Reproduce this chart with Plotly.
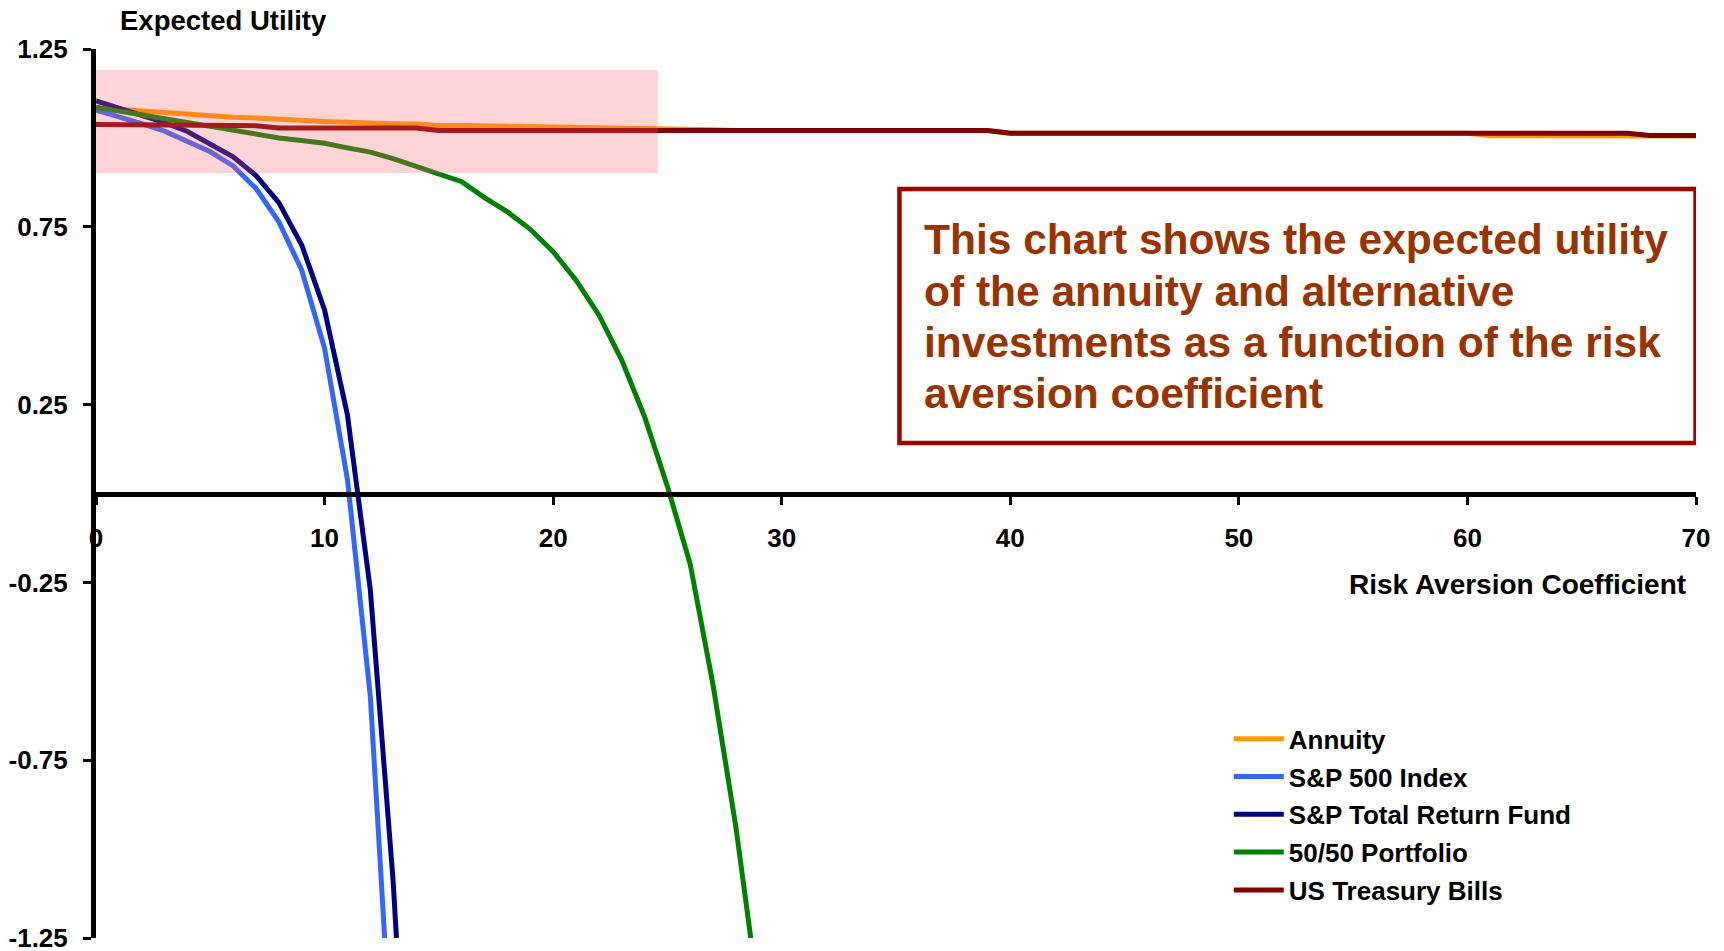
import plotly.graph_objects as go

# ---------------- data ----------------
risk_aversion = list(range(0, 71))

annuity = ([1.085, 1.080, 1.075, 1.070, 1.065, 1.061, 1.058, 1.056, 1.052, 1.050,
            1.046, 1.044, 1.041, 1.040, 1.039, 1.035, 1.035, 1.034, 1.033, 1.033,
            1.033, 1.032, 1.031, 1.027, 1.026, 1.025, 1.024, 1.023, 1.021, 1.021,
            1.021, 1.021, 1.021, 1.021, 1.021, 1.021, 1.021, 1.021, 1.021, 1.021,
            1.013, 1.013, 1.013, 1.013, 1.013, 1.013, 1.013, 1.013, 1.013, 1.013,
            1.013, 1.013, 1.013, 1.013, 1.013, 1.013, 1.013, 1.013, 1.013, 1.013,
            1.013, 1.006, 1.006, 1.006, 1.006, 1.006, 1.006, 1.006, 1.005, 1.005,
            1.005])

sp500_x = list(range(0, 14))
sp500 = [1.078, 1.060, 1.040, 1.019, 0.991, 0.961, 0.921, 0.858, 0.764, 0.628,
         0.408, 0.040, -0.570, -1.650]

sp_total_x = list(range(0, 15))
sp_total = [1.104, 1.084, 1.064, 1.043, 1.018, 0.984, 0.947, 0.894, 0.818, 0.699,
            0.516, 0.221, -0.270, -1.090, -2.200]

portfolio_x = list(range(0, 30))
portfolio = [1.086, 1.075, 1.064, 1.053, 1.042, 1.030, 1.020, 1.010, 1.000, 0.993,
             0.985, 0.972, 0.960, 0.942, 0.920, 0.899, 0.877, 0.832, 0.792, 0.743,
             0.680, 0.600, 0.502, 0.375, 0.216, 0.020, -0.200, -0.540, -0.940, -1.420]

tbills = ([1.038, 1.038, 1.037, 1.037, 1.036, 1.036, 1.035, 1.034,
           1.028, 1.028, 1.028, 1.028, 1.028, 1.028, 1.028,
           1.021, 1.021, 1.021, 1.021, 1.021, 1.021, 1.021, 1.021, 1.021, 1.021,
           1.021, 1.021, 1.021, 1.021, 1.021, 1.021, 1.021, 1.021, 1.021, 1.021,
           1.021, 1.021, 1.021, 1.021, 1.021,
           1.013, 1.013, 1.013, 1.013, 1.013, 1.013, 1.013, 1.013, 1.013, 1.013,
           1.013, 1.013, 1.013, 1.013, 1.013, 1.013, 1.013, 1.013, 1.013, 1.013,
           1.013, 1.013, 1.013, 1.013, 1.013, 1.013, 1.013, 1.013,
           1.007, 1.007, 1.007])

x_ticks = [0, 10, 20, 30, 40, 50, 60, 70]
y_ticks = [-1.25, -0.75, -0.25, 0.25, 0.75, 1.25]
y_tick_text = ["-1.25", "-0.75", "-0.25", "0.25", "0.75", "1.25"]

series = [
    ("Annuity", risk_aversion, annuity, "#FF9900"),
    ("S&P 500 Index", sp500_x, sp500, "#3366FF"),
    ("S&P Total Return Fund", sp_total_x, sp_total, "#000080"),
    ("50/50 Portfolio", portfolio_x, portfolio, "#008000"),
    ("US Treasury Bills", risk_aversion, tbills, "#800000"),
]

note_lines = ["This chart shows the expected utility",
              "of the annuity and alternative",
              "investments as a function of the risk",
              "aversion coefficient"]
note_line_y = [0.7855, 0.7274, 0.6693, 0.6124]   # paper positions of the note lines

FONT = "Liberation Sans, Arial, Helvetica, sans-serif"

fig = go.Figure()
for i, (name, xs, ys, col) in enumerate(series):
    fig.add_trace(go.Scatter(
        x=xs, y=ys, mode="lines", name=name, legendgroup=f"g{i}",
        line=dict(color=col, width=5),
    ))

# highlight rectangle (drawn above the lines)
fig.add_shape(type="rect", xref="x", yref="y", x0=0, x1=24.58, y0=0.901, y1=1.19,
              fillcolor="rgba(250,100,110,0.28)", line=dict(width=0), layer="above")

# note box
fig.add_shape(type="rect", xref="x", yref="y", x0=35.15, x1=69.98, y0=0.142, y1=0.856,
              fillcolor="rgba(0,0,0,0)", line=dict(color="#A00000", width=4.5), layer="above")

for txt, yy in zip(note_lines, note_line_y):
    fig.add_annotation(xref="paper", yref="paper", x=0.5163, y=yy, xanchor="left",
                       yanchor="middle", align="left", showarrow=False, text=txt,
                       font=dict(family=FONT, size=42.5, color="#993300", weight="bold"))

fig.add_annotation(xref="paper", yref="paper", x=0.0137, y=1.0315, xanchor="left",
                   yanchor="middle", showarrow=False, text="Expected Utility",
                   font=dict(family=FONT, size=27.5, color="black", weight="bold"))

fig.add_annotation(xref="paper", yref="paper", x=0.995, y=0.398, xanchor="right",
                   yanchor="middle", showarrow=False, text="Risk Aversion Coefficient",
                   font=dict(family=FONT, size=28, color="black", weight="bold"))

# The page body adds an 8px offset, so the figure is 8px smaller and margins shifted.
fig.update_layout(
    width=1716, height=943,
    margin=dict(l=88, r=28, t=41, b=13, autoexpand=False),
    paper_bgcolor="white", plot_bgcolor="white",
    font=dict(family=FONT, color="black"),
    showlegend=True,
    legend=dict(x=0.708, y=0.2505, xanchor="left", yanchor="top",
                bgcolor="rgba(0,0,0,0)", borderwidth=0, itemwidth=50,
                tracegroupgap=1,
                font=dict(family=FONT, size=26, color="black", weight="bold")),
    xaxis=dict(range=[0, 70], tickvals=x_ticks, showgrid=False, zeroline=False,
               automargin=False,
               showline=True, linecolor="black", linewidth=5,
               anchor="free", position=0.5,
               ticks="outside", ticklen=8, tickwidth=3, tickcolor="black",
               ticklabelstandoff=11,
               tickfont=dict(family=FONT, size=26, color="black", weight="bold")),
    yaxis=dict(range=[-1.25, 1.25], tickvals=y_ticks, ticktext=y_tick_text,
               showgrid=False, zeroline=False, automargin=False,
               ticklabeloverflow="allow",
               showline=True, linecolor="black", linewidth=5,
               ticks="outside", ticklen=8, tickwidth=3, tickcolor="black",
               ticklabelstandoff=10,
               tickfont=dict(family=FONT, size=26, color="black", weight="bold")),
)

fig.write_html("out.html")
